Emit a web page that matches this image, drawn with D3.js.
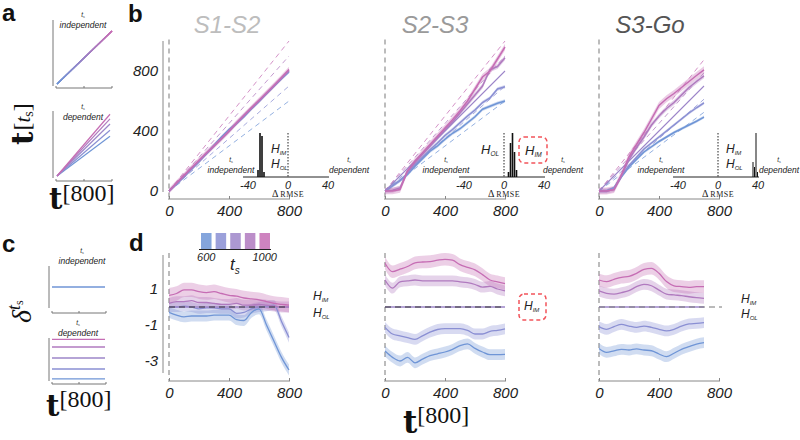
<!DOCTYPE html>
<html>
<head>
<meta charset="utf-8">
<script src="https://cdn.jsdelivr.net/npm/d3@7/dist/d3.min.js"></script>
<style>html,body{margin:0;padding:0;background:#fff}svg{display:block}</style>
</head>
<body>
<svg width="800" height="440"></svg>
<script>
// ================= DATA =================
const tsValues = [600, 700, 800, 900, 1000];
const tsColors = ["#6f95d6", "#8a8fd3", "#9d86c9", "#b07abf", "#c66db4"];
const epochs = ["S1-S2", "S2-S3", "S3-Go"];
const epochColors = ["#bdbdbd", "#9a9a9a", "#555555"];
const xTicks = [0, 400, 800];
const yTicksB = [0, 400, 800];
const yTicksD = [1, -1, -3];
const histTicks = [-40, 0, 40];
const legendTickLabels = ["600", "1000"];

// panel a (schematic) : value reached at t = 800
const aIndepEnd = [800, 800, 800, 800, 800];
const aDepEnd = [610, 705, 800, 880, 950];
// panel c (schematic) : constant deviation per ts
const cIndep = [0];
const cDep = [-1.9, -1.0, 0, 1.0, 1.7];

// panel b : dashed reference (ts-dependent) value at end time
const refEnd800 = [600, 700, 800, 900, 1000];
const refEnd700 = [525, 612, 700, 788, 875];

// panel b : S1-S2
const tB1 = [0,50,100,150,200,250,300,350,400,450,500,550,600,650,700,750,800];
const b1_600  = [0,45,95,145,195,250,305,360,410,450,495,548,597,650,700,748,795];
const b1_700  = [0,48,98,148,198,250,302,355,405,452,503,552,600,650,700,750,797];
const b1_800  = [0,50,100,150,200,250,300,350,400,450,500,550,600,650,700,750,800];
const b1_900  = [0,52,102,152,202,252,300,348,398,452,503,553,602,652,702,753,805];
const b1_1000 = [0,54,104,155,205,255,302,350,400,455,505,556,605,655,705,757,810];
const b1Band = [10, 10, 8, 12, 18];

// panel b : S2-S3
const tB2 = [0,50,100,150,200,250,300,350,400,450,500,550,600,650,700,750,800];
const b2_600  = [0,35,70,110,165,215,265,300,345,385,415,455,495,545,565,585,600];
const b2_700  = [0,35,70,115,175,225,275,320,370,410,455,500,540,590,620,680,695];
const b2_800  = [0,50,100,150,200,250,300,350,400,450,500,550,600,650,700,750,800];
const b2_900  = [0,5,20,130,190,245,300,355,410,460,520,580,640,700,810,830,888];
const b2_1000 = [0,0,10,135,200,255,310,365,420,475,535,600,680,760,800,880,960];
const b2Band = [12, 12, 0, 16, 22];

// panel b : S3-Go
const tB3 = [0,50,100,150,200,250,300,350,400,450,500,550,600,650,700];
const b3_600  = [0,0,20,95,160,210,260,295,330,360,390,415,440,465,493];
const b3_700  = [0,0,20,100,170,225,280,320,360,400,440,480,520,555,587];
const b3_800  = [0,50,100,150,200,250,300,350,400,450,500,550,600,650,700];
const b3_900  = [0,0,10,100,210,290,360,440,500,550,590,640,690,730,767];
const b3_1000 = [0,0,10,110,230,310,390,480,570,615,650,690,730,770,807];
const b3Band = [10, 10, 0, 16, 24];

// insets : Δ RMSE histograms
const h1Centers = [-30, -28, -26, -24];
const h1Counts  = [7, 44, 41, 5];
const h2Centers = [4.5, 6.5, 8.5, 10.5, 12.5];
const h2Counts  = [5, 34, 44, 25, 7];
const h3Centers = [35, 36.5, 38, 39.5];
const h3Counts  = [15, 10, 44, 5];

// panel d : deviations
const tD1 = [0,50,100,150,200,250,300,350,400,450,500,550,600,650,700,750,800];
const d1_600  = [-0.3,-0.45,-0.55,-0.5,-0.5,-0.5,-0.45,-0.45,-0.45,-0.7,-0.75,-0.3,-0.1,-1.0,-1.9,-2.8,-3.5];
const d1_700  = [0,0,0.05,0,-0.1,-0.05,-0.05,-0.1,-0.1,-0.35,-0.3,-0.1,0,0.05,0.1,-0.8,-1.7];
const d1_800  = [0,0,0,0,0,0,0,0,0,0,0,0,0,0,0,0,0];
const d1_900  = [0.2,0.3,0.3,0.35,0.25,0.25,0.2,0.15,0.15,0.2,0.1,0.1,0.15,0.1,0.05,0,0];
const d1_1000 = [0.65,0.75,0.95,0.95,0.85,0.8,0.85,0.75,0.65,0.6,0.5,0.45,0.4,0.3,0.2,0.15,0.1];
const d1Band = [0.3, 0.28, 0, 0.3, 0.4];

const tD2 = [0,50,100,150,200,250,300,350,400,450,500,550,600,650,700,750,800];
const d2_600  = [-2.45,-2.8,-3.0,-2.8,-3.1,-2.9,-2.7,-2.6,-2.5,-2.35,-2.15,-2.05,-2.3,-2.5,-2.65,-2.65,-2.63];
const d2_700  = [-1.13,-1.5,-1.6,-1.7,-1.8,-1.6,-1.4,-1.25,-1.2,-1.2,-1.2,-1.3,-1.5,-1.5,-1.35,-1.3,-1.22];
const d2_800  = [0,0,0,0,0,0,0,0,0,0,0,0,0,0,0,0,0];
const d2_900  = [1.5,1.05,1.4,1.45,1.5,1.45,1.45,1.45,1.45,1.45,1.4,1.35,1.25,1.1,1.15,1.0,0.9];
const d2_1000 = [2.43,1.96,2.1,2.25,2.45,2.5,2.52,2.6,2.65,2.6,2.35,2.2,2.06,1.8,1.5,1.4,1.3];
const d2Band = [0.3, 0.3, 0, 0.3, 0.35];

const tD3 = [0,50,100,150,200,250,300,350,400,450,500,550,600,650,700];
const d3_600  = [-2.3,-2.52,-2.44,-2.35,-2.39,-2.33,-2.39,-2.43,-2.61,-2.76,-2.57,-2.35,-2.2,-2.06,-1.98];
const d3_700  = [-1.09,-1.24,-1.09,-0.96,-1.06,-1.13,-1.06,-1.13,-1.24,-1.33,-1.24,-1.06,-0.94,-0.91,-0.87];
const d3_800  = [0,0,0,0,0,0,0,0,0,0,0,0,0,0,0];
const d3_900  = [0.89,0.76,0.72,0.8,0.91,1.13,1.26,1.18,0.94,0.72,0.67,0.63,0.57,0.52,0.48];
const d3_1000 = [1.5,1.41,1.54,1.65,1.7,1.87,2.09,2.15,1.87,1.41,1.18,1.13,1.09,1.13,1.13];
const d3Band = [0.3, 0.3, 0, 0.3, 0.35];

// ================= DRAWING =================
const SANS = "'Liberation Sans', Arial, Helvetica, sans-serif";
const SERIF = "'Liberation Serif', 'Times New Roman', serif";
const svg = d3.select("svg");

const bPanels = [
  {x0: 169, t: tB1, s: [b1_600, b1_700, b1_800, b1_900, b1_1000], band: b1Band, ref: refEnd800, tEnd: 800,
   hc: h1Centers, hn: h1Counts},
  {x0: 385, t: tB2, s: [b2_600, b2_700, b2_800, b2_900, b2_1000], band: b2Band, ref: refEnd800, tEnd: 800,
   hc: h2Centers, hn: h2Counts},
  {x0: 599, t: tB3, s: [b3_600, b3_700, b3_800, b3_900, b3_1000], band: b3Band, ref: refEnd700, tEnd: 700,
   hc: h3Centers, hn: h3Counts}
];
const dPanels = [
  {x0: 169, t: tD1, s: [d1_600, d1_700, d1_800, d1_900, d1_1000], band: d1Band},
  {x0: 385, t: tD2, s: [d2_600, d2_700, d2_800, d2_900, d2_1000], band: d2Band},
  {x0: 599, t: tD3, s: [d3_600, d3_700, d3_800, d3_900, d3_1000], band: d3Band}
];

function letter(x, y, s) {
  svg.append("text").attr("x", x).attr("y", y).text(s)
    .attr("font-family", SANS).attr("font-weight", "bold").attr("font-size", 24).attr("fill", "#111");
}
letter(2, 21, "a"); letter(128, 22, "b"); letter(2, 252, "c"); letter(129, 251, "d");

function tsWord(x, y, word, size) {
  const t = svg.append("text").attr("x", x).attr("y", y - size * 1.3).attr("text-anchor", "middle")
    .attr("font-family", SANS).attr("font-style", "italic").attr("font-size", size * 0.75).attr("fill", "#222");
  t.append("tspan").text("t");
  t.append("tspan").attr("font-size", size * 0.45).attr("dy", 1.2).text("s");
  svg.append("text").attr("x", x).attr("y", y).attr("text-anchor", "middle")
    .attr("font-family", SANS).attr("font-style", "italic").attr("font-size", size).attr("fill", "#222").text(word);
}
function hLabel(x, y, sub, size) {
  const t = svg.append("text").attr("x", x).attr("y", y)
    .attr("font-family", SANS).attr("font-style", "italic").attr("font-size", size).attr("fill", "#222");
  t.append("tspan").text("H");
  t.append("tspan").attr("font-size", size * 0.5).attr("dy", size * 0.15).text(sub);
}
function redBox(x, y, w, h) {
  svg.append("rect").attr("x", x).attr("y", y).attr("width", w).attr("height", h).attr("rx", 5)
    .attr("fill", "none").attr("stroke", "#f2545b").attr("stroke-width", 1.5).attr("stroke-dasharray", "4,3");
}

// ---------- panel a ----------
const grad = svg.append("defs").append("linearGradient").attr("id", "g1")
  .attr("x1", "0").attr("y1", "1").attr("x2", "1").attr("y2", "0");
grad.append("stop").attr("offset", "0").attr("stop-color", tsColors[0]);
grad.append("stop").attr("offset", "1").attr("stop-color", tsColors[4]);

function miniFrame(xAxis, yTop, yBot, xLeft, xRight, yAxisLine) {
  svg.append("line").attr("x1", xAxis).attr("x2", xAxis).attr("y1", yTop).attr("y2", yBot)
    .attr("stroke", "#777").attr("stroke-width", 1);
  svg.append("line").attr("x1", xLeft).attr("x2", xRight).attr("y1", yAxisLine).attr("y2", yAxisLine)
    .attr("stroke", "#777").attr("stroke-width", 1);
  [xLeft, (xLeft + xRight) / 2, xRight].forEach(tx => svg.append("line").attr("x1", tx).attr("x2", tx)
    .attr("y1", yAxisLine).attr("y2", yAxisLine - 2).attr("stroke", "#777"));
}
{
  const xa = d3.scaleLinear().domain([0, 800]).range([57, 112]);
  const ya1 = d3.scaleLinear().domain([0, 800]).range([84, 31]);
  miniFrame(53, 20, 86, 56, 112, 88);
  aIndepEnd.forEach((v, i) => svg.append("line").attr("x1", xa(0)).attr("y1", ya1(0))
    .attr("x2", xa(800)).attr("y2", ya1(v)).attr("stroke", "url(#g1)").attr("stroke-width", 1.2));
  tsWord(83, 28, "independent", 8.5);

  const ya2 = d3.scaleLinear().domain([0, 800]).range([176, 124]);
  miniFrame(53, 111, 178, 56, 112, 181);
  aDepEnd.forEach((v, i) => svg.append("line").attr("x1", xa(0)).attr("y1", ya2(0))
    .attr("x2", xa(800) - 2).attr("y2", ya2(v)).attr("stroke", tsColors[i]).attr("stroke-width", 1.2));
  tsWord(83, 120, "dependent", 8.5);

  // y label t^[t_s]
  const yl = svg.append("g").attr("transform", "translate(33,145) rotate(-90)")
    .append("text").attr("font-family", SERIF).attr("fill", "#111");
  yl.append("tspan").attr("font-family", "'DejaVu Serif', serif").attr("font-weight", "bold").attr("font-size", 29).text("t");
  yl.append("tspan").attr("font-size", 24).attr("dy", -3).attr("dx", 1).text("[");
  yl.append("tspan").attr("font-size", 21).attr("font-style", "italic").text("t");
  yl.append("tspan").attr("font-size", 14).attr("dy", 3).text("s");
  yl.append("tspan").attr("font-size", 24).attr("dy", -3).text("]");

  const xl = svg.append("text").attr("x", 49).attr("y", 209).attr("font-family", SERIF).attr("fill", "#111");
  xl.append("tspan").attr("font-family", "'DejaVu Serif', serif").attr("font-weight", "bold").attr("font-size", 29).text("t");
  xl.append("tspan").attr("font-size", 24).attr("dy", -8).text("[800]");
}

// ---------- panel c ----------
{
  const xc = d3.scaleLinear().domain([0, 800]).range([52, 105]);
  const yc1 = d3.scaleLinear().domain([-2, 2]).range([310, 266]);
  miniFrame(49, 266, 308, 52, 106, 313);
  cIndep.forEach(v => svg.append("line").attr("x1", xc(0)).attr("x2", xc(800))
    .attr("y1", yc1(v) - 1).attr("y2", yc1(v) - 1).attr("stroke", tsColors[0]).attr("stroke-width", 1.3));
  tsWord(82, 264, "independent", 8.5);

  const yc2 = d3.scaleLinear().domain([-1, 1]).range([369, 347]);
  miniFrame(49, 338, 381, 52, 106, 384);
  cDep.forEach((v, i) => svg.append("line").attr("x1", xc(0)).attr("x2", xc(800))
    .attr("y1", yc2(v)).attr("y2", yc2(v)).attr("stroke", tsColors[i]).attr("stroke-width", 1.3));
  tsWord(78, 336, "dependent", 8.5);

  const yl = svg.append("g").attr("transform", "translate(31,323) rotate(-90)")
    .append("text").attr("font-family", SERIF).attr("fill", "#111");
  yl.append("tspan").attr("font-style", "italic").attr("font-size", 28).text("δ");
  yl.append("tspan").attr("font-style", "italic").attr("font-size", 18).attr("dy", -11).text("t");
  yl.append("tspan").attr("font-size", 12).attr("dy", 3).text("s");

  const xl = svg.append("text").attr("x", 46).attr("y", 416).attr("font-family", SERIF).attr("fill", "#111");
  xl.append("tspan").attr("font-family", "'DejaVu Serif', serif").attr("font-weight", "bold").attr("font-size", 29).text("t");
  xl.append("tspan").attr("font-size", 24).attr("dy", -9).text("[800]");
}

// ---------- titles ----------
[227, 435, 650].forEach((cx, i) => svg.append("text").attr("x", cx).attr("y", 33).attr("text-anchor", "middle")
  .attr("font-family", SANS).attr("font-style", "italic").attr("font-size", 24).attr("fill", epochColors[i]).text(epochs[i]));

function xAxisAt(x, yPos) {
  const g = svg.append("g").attr("transform", `translate(0,${yPos})`)
    .call(d3.axisBottom(x).tickValues(xTicks).tickSize(3).tickPadding(3).tickFormat(d3.format("d")));
  g.select(".domain").attr("stroke", "#888").attr("d", `M${x(0) - 1},0H${x(800) + 1}`);
  g.selectAll(".tick line").attr("stroke", "#888").attr("y2", -3);
  g.selectAll("text").attr("font-family", SANS).attr("font-style", "italic").attr("font-size", 15).attr("fill", "#222");
}

// ---------- panel b ----------
bPanels.forEach((P, pi) => {
  const x = d3.scaleLinear().domain([0, 800]).range([P.x0, P.x0 + 120]);
  const y = d3.scaleLinear().domain([0, 800]).range([191, 71]);
  svg.append("line").attr("x1", x(0)).attr("x2", x(0)).attr("y1", y(1010)).attr("y2", 199)
    .attr("stroke", "#999").attr("stroke-width", 1.3).attr("stroke-dasharray", "5,4");
  xAxisAt(x, 199);
  if (pi === 0) {
    svg.append("line").attr("x1", 163).attr("x2", 163).attr("y1", y(1000)).attr("y2", 192).attr("stroke", "#888");
    const g = svg.append("g").attr("transform", "translate(163,0)")
      .call(d3.axisLeft(y).tickValues(yTicksB).tickSize(0).tickPadding(5).tickFormat(d3.format("d")));
    g.select(".domain").remove();
    g.selectAll("text").attr("font-family", SANS).attr("font-style", "italic").attr("font-size", 15).attr("fill", "#222");
  }
  // reference dashed lines
  P.ref.forEach((v, i) => svg.append("line").attr("x1", x(0)).attr("y1", y(0)).attr("x2", x(P.tEnd)).attr("y2", y(v))
    .attr("stroke", tsColors[i]).attr("stroke-opacity", 0.75).attr("stroke-width", 1).attr("stroke-dasharray", "5,4"));
  // bands + lines
  const area = d3.area().x((d, j) => x(P.t[j]));
  const line = d3.line().x((d, j) => x(P.t[j])).y(d => y(d));
  P.s.forEach((ser, i) => {
    if (P.band[i] > 0) {
      svg.append("path").datum(ser)
        .attr("d", area.y0(d => y(d - P.band[i])).y1(d => y(d + P.band[i])))
        .attr("fill", tsColors[i]).attr("fill-opacity", 0.35);
    }
  });
  P.s.forEach((ser, i) => {
    svg.append("path").datum(ser).attr("d", line).attr("fill", "none")
      .attr("stroke", tsColors[i]).attr("stroke-width", P.band[i] > 0 ? 1.5 : 1.1);
  });
  // inset histogram
  const zero = P.x0 + 119;
  const hx = d3.scaleLinear().domain([-40, 40]).range([zero - 40, zero + 40]);
  const hy = d3.scaleLinear().domain([0, 44]).range([177, 133]);
  svg.append("line").attr("x1", hx(-45)).attr("x2", hx(41)).attr("y1", 177).attr("y2", 177).attr("stroke", "#222");
  svg.append("line").attr("x1", hx(0)).attr("x2", hx(0)).attr("y1", 133).attr("y2", 177)
    .attr("stroke", "#222").attr("stroke-width", 1).attr("stroke-dasharray", "1.5,1.5");
  const bw = pi === 2 ? 1.4 : 2;
  P.hc.forEach((c, j) => svg.append("rect").attr("x", hx(c - bw / 2) + 0.2).attr("width", hx(bw) - hx(0) - 0.4)
    .attr("y", hy(P.hn[j])).attr("height", 177 - hy(P.hn[j])).attr("fill", "#111"));
  histTicks.forEach(v => svg.append("text").attr("x", hx(v)).attr("y", 189).attr("text-anchor", "middle")
    .attr("font-family", SANS).attr("font-style", "italic").attr("font-size", 11).attr("fill", "#222").text(v));
  const rm = svg.append("text").attr("x", hx(0)).attr("y", 197).attr("text-anchor", "middle")
    .attr("font-family", SERIF).attr("font-size", 9).attr("fill", "#222");
  rm.append("tspan").attr("font-size", 10).text("Δ ");
  rm.append("tspan").attr("font-size", 8).attr("letter-spacing", 0.5).text("RMSE");
});
// inset labels
tsWord(231, 173, "independent", 8.5); tsWord(349, 173, "dependent", 8.5);
hLabel(271, 153, "IM", 12); hLabel(271, 168, "OL", 12);
tsWord(446, 173, "independent", 8.5); tsWord(563, 173, "dependent", 8.5);
hLabel(481, 154, "OL", 13); hLabel(525, 155, "IM", 13); redBox(519, 137, 28, 26);
tsWord(661, 173, "independent", 8.5); tsWord(779, 173, "dependent", 8.5);
hLabel(726, 153, "IM", 12); hLabel(726, 168, "OL", 12);

// ---------- panel d ----------
dPanels.forEach((P, pi) => {
  const x = d3.scaleLinear().domain([0, 800]).range([P.x0, P.x0 + 120]);
  const y = d3.scaleLinear().domain([0, 1]).range([307, 289]);
  svg.append("line").attr("x1", x(0)).attr("x2", x(0)).attr("y1", 253).attr("y2", 380)
    .attr("stroke", "#999").attr("stroke-width", 1.3).attr("stroke-dasharray", "5,4");
  xAxisAt(x, 381);
  if (pi === 0) {
    svg.append("line").attr("x1", 163).attr("x2", 163).attr("y1", 255).attr("y2", 373).attr("stroke", "#888");
    const g = svg.append("g").attr("transform", "translate(163,0)")
      .call(d3.axisLeft(y).tickValues(yTicksD).tickSize(0).tickPadding(5).tickFormat(d => String(d)));
    g.select(".domain").remove();
    g.selectAll("text").attr("font-family", SANS).attr("font-style", "italic").attr("font-size", 15).attr("fill", "#222");
  }
  const area = d3.area().x((d, j) => x(P.t[j])).curve(d3.curveMonotoneX);
  const line = d3.line().x((d, j) => x(P.t[j])).y(d => y(d)).curve(d3.curveMonotoneX);
  P.s.forEach((ser, i) => {
    if (P.band[i] > 0) {
      svg.append("path").datum(ser)
        .attr("d", area.y0(d => y(d - P.band[i])).y1(d => y(d + P.band[i])))
        .attr("fill", tsColors[i]).attr("fill-opacity", 0.33);
    }
  });
  P.s.forEach((ser, i) => {
    svg.append("path").datum(ser).attr("d", line).attr("fill", "none")
      .attr("stroke", tsColors[i]).attr("stroke-width", 1.3);
  });
  svg.append("line").attr("x1", x(0)).attr("x2", x(pi === 2 ? 820 : 800)).attr("y1", y(0)).attr("y2", y(0))
    .attr("stroke", pi === 2 ? "#777" : "#333").attr("stroke-width", 1).attr("stroke-dasharray", "6,4");
});
hLabel(313, 300, "IM", 12); hLabel(313, 317, "OL", 12);
hLabel(524, 310, "IM", 12); redBox(519, 294, 27, 26);
hLabel(741, 303, "IM", 12); hLabel(741, 318, "OL", 12);

// legend
{
  const lx = d3.scaleBand().domain(tsValues).range([201, 270]).paddingInner(0.28);
  tsValues.forEach((v, i) => svg.append("rect").attr("x", lx(v)).attr("y", 233).attr("width", lx.bandwidth())
    .attr("height", 16).attr("fill", tsColors[i]).attr("fill-opacity", 0.85));
  svg.append("line").attr("x1", 199).attr("x2", 271).attr("y1", 249.5).attr("y2", 249.5).attr("stroke", "#222");
  svg.append("text").attr("x", lx(600) + lx.bandwidth() / 2).attr("y", 261).attr("text-anchor", "middle")
    .attr("font-family", SANS).attr("font-style", "italic").attr("font-size", 11).attr("fill", "#222").text(legendTickLabels[0]);
  svg.append("text").attr("x", lx(1000) + lx.bandwidth() / 2).attr("y", 261).attr("text-anchor", "middle")
    .attr("font-family", SANS).attr("font-style", "italic").attr("font-size", 11).attr("fill", "#222").text(legendTickLabels[1]);
  const tl = svg.append("text").attr("x", 230).attr("y", 270).attr("font-family", SANS).attr("font-style", "italic")
    .attr("font-size", 17).attr("fill", "#222");
  tl.append("tspan").text("t");
  tl.append("tspan").attr("font-size", 10).attr("dy", 4).text("s");
}

// bottom x label
{
  const xl = svg.append("text").attr("x", 403).attr("y", 433).attr("font-family", SERIF).attr("fill", "#111");
  xl.append("tspan").attr("font-family", "'DejaVu Serif', serif").attr("font-weight", "bold").attr("font-size", 31).text("t");
  xl.append("tspan").attr("font-size", 24).attr("dy", -10).text("[800]");
}
</script>
</body>
</html>
